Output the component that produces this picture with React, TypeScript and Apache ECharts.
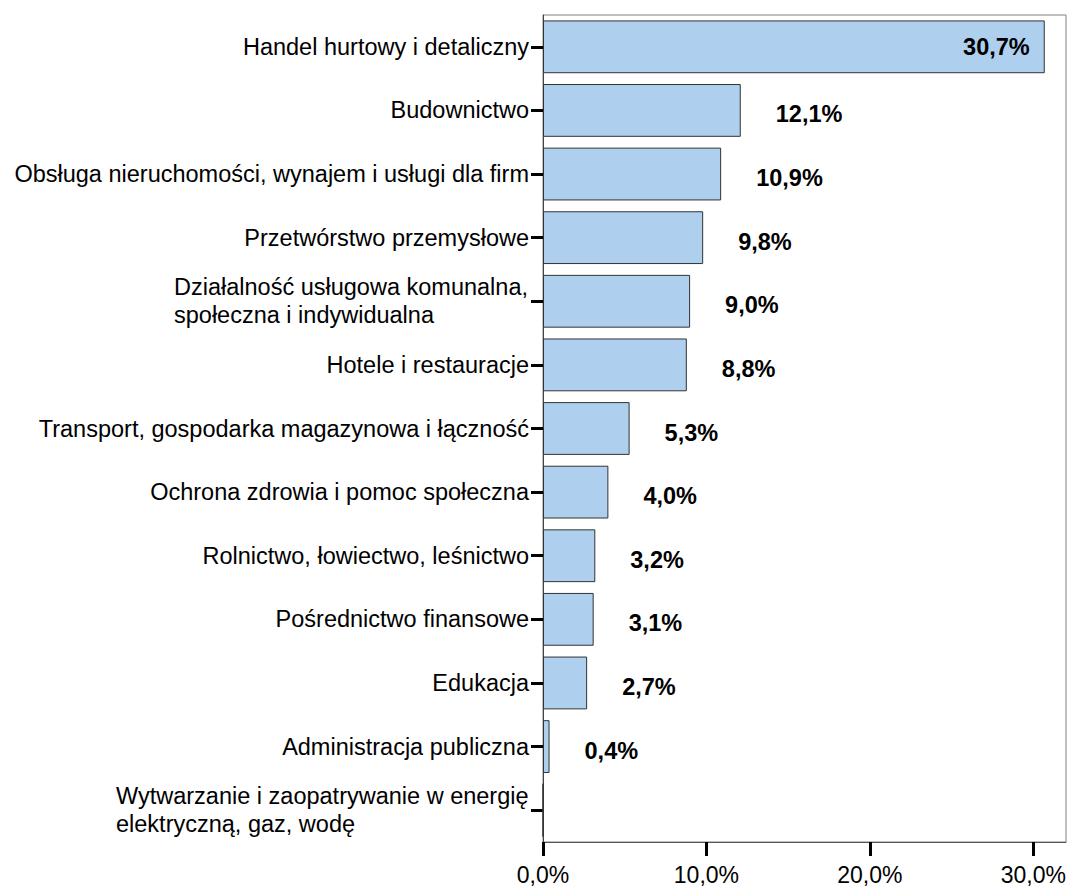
import React, { useEffect, useRef } from "react";
import * as echarts from "echarts";

const categories = [
  "Handel hurtowy i detaliczny",
  "Budownictwo",
  "Obsługa nieruchomości, wynajem i usługi dla firm",
  "Przetwórstwo przemysłowe",
  "Działalność usługowa komunalna,\nspołeczna i indywidualna",
  "Hotele i restauracje",
  "Transport, gospodarka magazynowa i łączność",
  "Ochrona zdrowia i pomoc społeczna",
  "Rolnictwo, łowiectwo, leśnictwo",
  "Pośrednictwo finansowe",
  "Edukacja",
  "Administracja publiczna",
  "Wytwarzanie i zaopatrywanie w energię\nelektryczną, gaz, wodę",
];
const values = [30.7, 12.1, 10.9, 9.8, 9.0, 8.8, 5.3, 4.0, 3.2, 3.1, 2.7, 0.4, 0.0];
const xTicks = [0, 10, 20, 30];

const FONT = "'Liberation Sans', Arial, sans-serif";
const FS = 23.5;

const fmt = (v: number) => v.toFixed(1).replace(".", ",") + "%";

export default function App() {
  const ref = useRef<HTMLDivElement>(null);
  useEffect(() => {
    if (!ref.current) return;
    const chart = echarts.init(ref.current, null, { renderer: "svg" });
    const ctx = document.createElement("canvas").getContext("2d")!;
    ctx.font = `${FS}px ${FONT}`;
    const rich: Record<string, any> = {};
    const keyFor: Record<string, string> = {};
    categories.forEach((c, i) => {
      if (c.includes("\n")) {
        const w = Math.max(...c.split("\n").map((l) => ctx.measureText(l).width));
        rich["m" + i] = { width: Math.ceil(w), align: "left", fontSize: FS, fontFamily: FONT, color: "#000", lineHeight: 28 };
        keyFor[c] = "m" + i;
      }
    });
    chart.setOption({
      animation: false,
      grid: { left: 543, right: 5, top: 15, bottom: 45, show: true, borderColor: "#808080", borderWidth: 1, outerBoundsMode: "none" },
      xAxis: {
        type: "value",
        min: 0,
        max: 32,
        interval: 10,
        splitLine: { show: false },
        axisLine: { show: true, lineStyle: { color: "#555", width: 1 } },
        axisTick: { show: true, length: 14, lineStyle: { color: "#000", width: 3 }, customValues: xTicks },
        axisLabel: { customValues: xTicks, formatter: (v: number) => fmt(v), fontSize: 23, fontFamily: FONT, color: "#000", margin: 21 },
      },
      yAxis: {
        type: "category",
        inverse: true,
        data: categories,
        axisLine: { show: true, lineStyle: { color: "#444", width: 1 } },
        axisTick: { show: true, alignWithLabel: true, length: 12, lineStyle: { color: "#000", width: 3 } },
        axisLabel: {
          fontSize: FS,
          fontFamily: FONT,
          color: "#000",
          margin: 14,
          lineHeight: 28,
          formatter: (v: string) => {
            const k = keyFor[v];
            if (!k) return v;
            return v.split("\n").map((l) => `{${k}|${l}}`).join("\n");
          },
          rich,
        },
      },
      series: [
        {
          type: "bar",
          data: values.map((v, i) =>
            i === 0
              ? { value: v, label: { position: "insideRight", distance: 15, offset: [0, 0] } }
              : v === 0
              ? { value: v, label: { show: false } }
              : v
          ),
          barCategoryGap: "17%",
          itemStyle: { color: "#AECFEE", borderColor: "#333", borderWidth: 1 },
          label: {
            show: true,
            position: "right",
            distance: 35,
            offset: [0, 4],
            formatter: (p: any) => fmt(p.value),
            fontSize: 23.5,
            fontWeight: "bold",
            fontFamily: FONT,
            color: "#000",
          },
        },
      ],
    });
    return () => chart.dispose();
  }, []);
  return <div ref={ref} style={{ position: "fixed", left: 0, top: 0, width: 1071, height: 887, background: "#fff" }} />;
}
